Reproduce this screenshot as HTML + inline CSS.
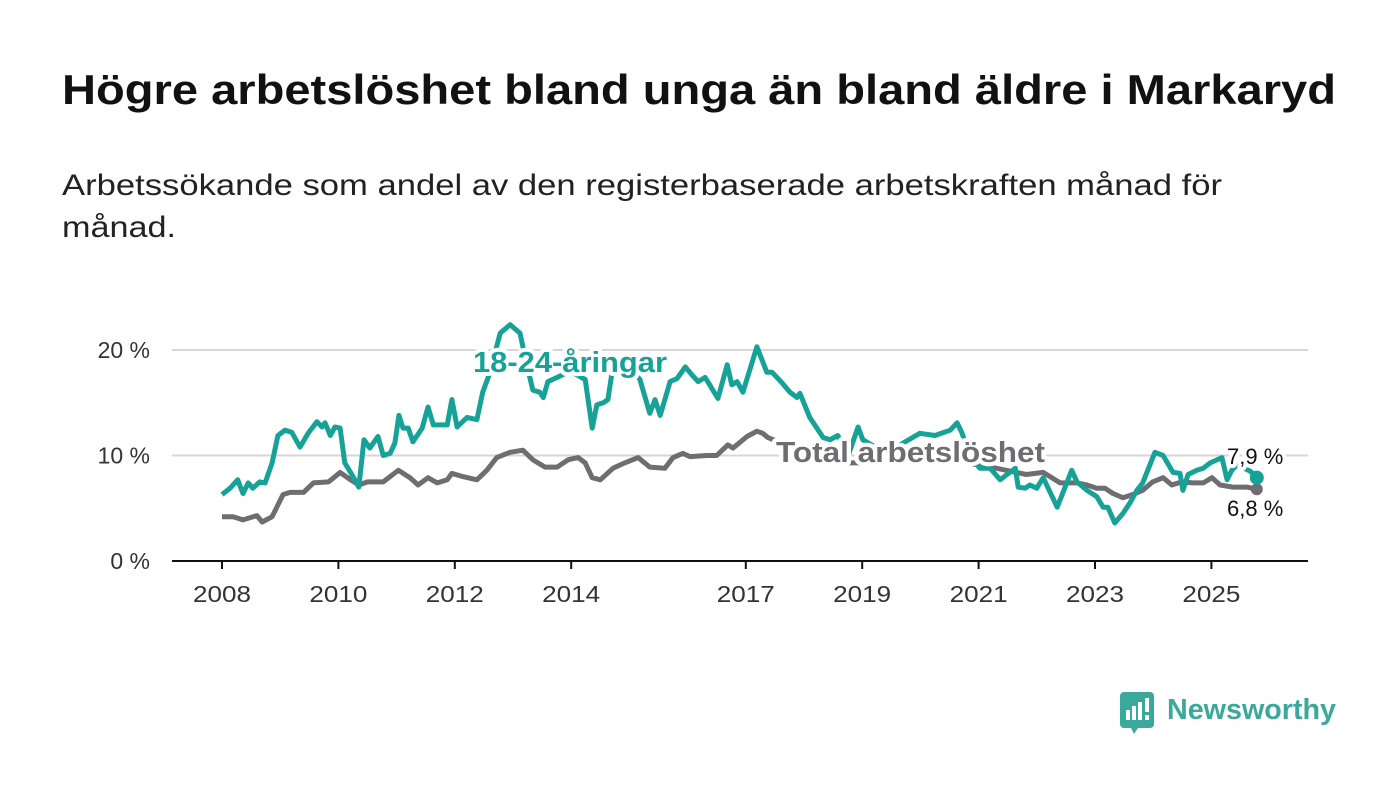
<!DOCTYPE html>
<html><head><meta charset="utf-8"><style>
html,body{margin:0;padding:0;background:#fff;width:1400px;height:794px;overflow:hidden}
svg{display:block}
</style></head><body>
<svg id="chart" width="1400" height="794" xmlns="http://www.w3.org/2000/svg" font-family="'Liberation Sans', sans-serif">
<text x="62" y="104" font-size="42" font-weight="bold" fill="#111" textLength="1274" lengthAdjust="spacingAndGlyphs">Högre arbetslöshet bland unga än bland äldre i Markaryd</text>
<text x="62" y="195" font-size="30" fill="#222" textLength="1160" lengthAdjust="spacingAndGlyphs">Arbetssökande som andel av den registerbaserade arbetskraften månad för</text>
<text x="62" y="237" font-size="30" fill="#222" textLength="114" lengthAdjust="spacingAndGlyphs">månad.</text>
<g id="grid"></g>
<g id="yaxis"></g>
<g id="xaxis"></g>
<g id="series"></g>
<g id="labels"></g>
<g>
<path d="M1124 692 h26 a4 4 0 0 1 4 4 v28 a4 4 0 0 1 -4 4 h-12 l-4 6 l-3 -6 h-7 a4 4 0 0 1 -4 -4 v-28 a4 4 0 0 1 4 -4z" fill="#3aa89a"/>
<rect x="1126" y="710" width="4" height="10" fill="#fff"/><rect x="1132" y="706" width="4" height="14" fill="#fff"/><rect x="1138" y="702" width="4" height="18" fill="#fff"/><rect x="1145" y="698" width="4" height="14" fill="#fff"/><rect x="1145" y="715" width="4" height="5" fill="#fff"/>
<text x="1167" y="719" font-size="29" font-weight="bold" fill="#3aa89a" textLength="169" lengthAdjust="spacingAndGlyphs">Newsworthy</text>
</g>
</svg>
<script>
const yearTicks=[2008,2010,2012,2014,2017,2019,2021,2023,2025];
const yTicks=[0,10,20];
const youthDates=[2008.00,2008.14,2008.27,2008.36,2008.45,2008.53,2008.65,2008.74,2008.86,2008.96,2009.08,2009.20,2009.34,2009.48,2009.63,2009.72,2009.77,2009.86,2009.94,2010.03,2010.11,2010.23,2010.35,2010.44,2010.54,2010.68,2010.77,2010.89,2010.97,2011.04,2011.11,2011.20,2011.28,2011.44,2011.54,2011.63,2011.87,2011.95,2012.04,2012.21,2012.38,2012.48,2012.60,2012.78,2012.95,2013.12,2013.21,2013.34,2013.46,2013.52,2013.60,2013.76,2013.98,2014.24,2014.36,2014.44,2014.55,2014.63,2014.70,2014.92,2015.18,2015.35,2015.44,2015.53,2015.70,2015.82,2015.96,2016.08,2016.18,2016.30,2016.38,2016.52,2016.68,2016.76,2016.85,2016.95,2017.19,2017.36,2017.45,2017.62,2017.76,2017.88,2017.93,2018.10,2018.33,2018.45,2018.58,2018.76,2018.93,2019.01,2019.31,2019.65,2019.99,2020.25,2020.51,2020.63,2020.71,2020.85,2021.02,2021.20,2021.37,2021.63,2021.68,2021.80,2021.88,2022.00,2022.11,2022.35,2022.60,2022.69,2022.86,2023.03,2023.14,2023.22,2023.34,2023.48,2023.60,2023.72,2023.82,2024.03,2024.17,2024.34,2024.46,2024.51,2024.60,2024.75,2024.86,2024.98,2025.18,2025.27,2025.35,2025.44,2025.67,2025.78];
const youthValues=[6.3,6.9,7.7,6.4,7.4,6.9,7.5,7.4,9.3,11.9,12.4,12.2,10.8,12.1,13.2,12.7,13.1,11.9,12.7,12.6,9.3,8.2,7.0,11.5,10.7,11.8,10.0,10.2,11.2,13.8,12.6,12.6,11.3,12.6,14.6,12.9,12.9,15.3,12.7,13.6,13.4,16.0,17.8,21.6,22.4,21.6,19.3,16.2,16.0,15.5,17.0,17.4,18.0,17.2,12.6,14.8,15.0,15.3,17.8,19.0,17.2,14.0,15.3,13.8,17.0,17.3,18.4,17.6,17.0,17.4,16.7,15.4,18.6,16.7,17.0,16.0,20.3,17.9,17.9,16.9,16.0,15.5,15.9,13.6,11.7,11.5,11.9,10.0,12.7,11.5,10.5,11.0,12.1,11.9,12.4,13.1,12.2,10.0,8.8,8.8,7.7,8.8,7.0,6.9,7.2,6.9,7.9,5.1,8.6,7.5,6.7,6.1,5.1,5.1,3.6,4.5,5.5,6.7,7.4,10.3,10.0,8.4,8.3,6.7,8.2,8.6,8.8,9.3,9.8,7.7,8.6,9.1,8.5,7.9];
const totalDates=[2008.00,2008.19,2008.36,2008.60,2008.69,2008.86,2009.05,2009.17,2009.40,2009.57,2009.83,2010.03,2010.21,2010.35,2010.50,2010.77,2011.03,2011.23,2011.37,2011.54,2011.70,2011.87,2011.95,2012.14,2012.38,2012.55,2012.72,2012.95,2013.17,2013.34,2013.55,2013.76,2013.95,2014.12,2014.24,2014.36,2014.50,2014.72,2014.92,2015.15,2015.35,2015.61,2015.75,2015.92,2016.04,2016.33,2016.50,2016.69,2016.78,2017.02,2017.19,2017.29,2017.38,2017.70,2018.00,2018.40,2018.80,2019.20,2019.60,2020.00,2020.50,2020.90,2021.30,2021.65,2021.82,2022.11,2022.40,2022.69,2022.86,2023.03,2023.17,2023.31,2023.48,2023.65,2023.82,2023.99,2024.17,2024.32,2024.49,2024.68,2024.86,2025.01,2025.15,2025.37,2025.61,2025.78];
const totalValues=[4.2,4.2,3.9,4.3,3.7,4.2,6.3,6.5,6.5,7.4,7.5,8.4,7.7,7.2,7.5,7.5,8.6,7.9,7.2,7.9,7.4,7.7,8.3,8.0,7.7,8.6,9.8,10.3,10.5,9.6,8.9,8.9,9.6,9.8,9.3,7.9,7.7,8.8,9.3,9.8,8.9,8.8,9.8,10.2,9.9,10.0,10.0,11.0,10.7,11.8,12.3,12.1,11.7,11.0,10.5,9.8,9.3,9.3,9.6,9.8,10.0,9.2,8.8,8.4,8.2,8.4,7.4,7.4,7.2,6.9,6.9,6.4,6.0,6.3,6.7,7.5,7.9,7.2,7.5,7.4,7.4,7.9,7.2,7.0,7.0,6.8];

const NS='http://www.w3.org/2000/svg';
const X=y=>222+(y-2008)*58.2;
const Y=v=>561-v*10.55;
function mk(tag,attrs,parent){const e=document.createElementNS(NS,tag);for(const k in attrs)e.setAttribute(k,attrs[k]);parent.appendChild(e);return e;}
const grid=document.getElementById('grid'),ya=document.getElementById('yaxis'),xa=document.getElementById('xaxis'),se=document.getElementById('series'),lb=document.getElementById('labels');
yTicks.forEach(t=>{
  if(t>0){const g=mk('line',{x1:172,x2:1308,y1:Y(t),y2:Y(t),stroke:'#d6d6d6','stroke-width':2},grid);
  
  }
  const tx=mk('text',{x:150,y:Y(t)+8,'text-anchor':'end','font-size':23,fill:'#333'},ya);tx.textContent=t+' %';
  
  
});
const ax=mk('line',{x1:172,x2:1308,y1:561,y2:561,stroke:'#111','stroke-width':2},xa);


yearTicks.forEach(t=>{
  const tk=mk('line',{x1:X(t),x2:X(t),y1:561,y2:569,stroke:'#111','stroke-width':2},xa);
  
  
  const tx=mk('text',{x:X(t),y:602,'text-anchor':'middle','font-size':23,fill:'#333',textLength:58,lengthAdjust:'spacingAndGlyphs'},xa);tx.textContent=t;
  
  
});
function path(d,v){return d.map((x,i)=>(i?'L':'M')+X(x).toFixed(1)+' '+Y(v[i]).toFixed(1)).join(' ');}
const tl=mk('path',{d:path(totalDates,totalValues),fill:'none',stroke:'#6e6d72','stroke-width':5,'stroke-linejoin':'round'},se);


const yl=mk('path',{d:path(youthDates,youthValues),fill:'none',stroke:'#16a296','stroke-width':5,'stroke-linejoin':'round'},se);


const td=mk('circle',{cx:X(totalDates[totalDates.length-1]),cy:Y(totalValues[totalValues.length-1]),r:6,fill:'#6e6d72'},se);


const yd=mk('circle',{cx:X(youthDates[youthDates.length-1]),cy:Y(youthValues[youthValues.length-1]),r:7,fill:'#16a296'},se);


function label(x,y,txt,col,name,bold,size,halo){
  const t=mk('text',{x:x,y:y,'font-size':size,'font-weight':bold?'bold':'normal',fill:col},lb);
  if(halo){t.setAttribute('stroke','#fff');t.setAttribute('stroke-width',8);t.setAttribute('paint-order','stroke');t.setAttribute('stroke-linejoin','round');}
  t.textContent=txt;
  
  
  return t;
}
const l1=label(473,372,'18-24-åringar','#16a296','youth-series-label',true,29,true);l1.setAttribute('textLength',194);l1.setAttribute('lengthAdjust','spacingAndGlyphs');
const l2=label(776,462,'Total arbetslöshet','#6e6d72','total-series-label',true,29,true);l2.setAttribute('textLength',269);l2.setAttribute('lengthAdjust','spacingAndGlyphs');
label(1227,464,'7,9 %','#111','youth-end-value',false,22,true);
label(1227,516,'6,8 %','#111','total-end-value',false,22,true);
</script>
</body></html>
